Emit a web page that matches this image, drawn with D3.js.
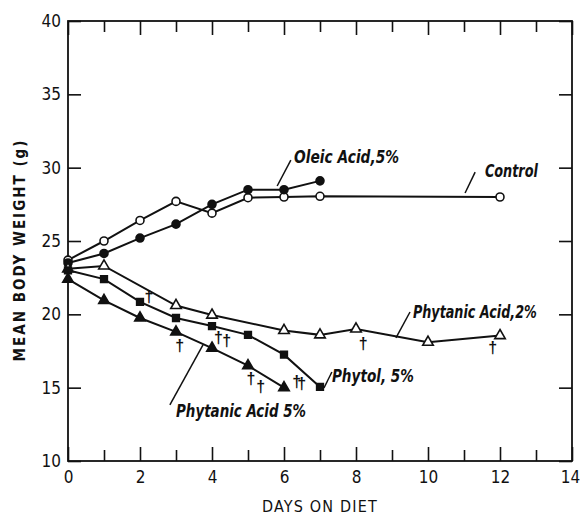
<!DOCTYPE html>
<html>
<head>
<meta charset="utf-8">
<script src="https://cdn.jsdelivr.net/npm/d3@7"></script>
<style>
  body { margin: 0; background: #fff; }
  svg { display: block; }
  .tick text { font-family: "Liberation Sans Narrow", "DejaVu Sans Condensed", "Liberation Sans", sans-serif; font-stretch: condensed; fill: #111; }
  .lbl { font-family: "Liberation Sans Narrow", "DejaVu Sans Condensed", "Liberation Sans", sans-serif; font-style: italic; font-weight: bold; fill: #111; }
</style>
</head>
<body>
<svg id="chart" width="580" height="517"></svg>
<script>
// days on diet and mean body weight (g) per group
var controlDays = [0, 1, 2, 3, 4, 5, 6, 7, 12];
var controlWeight = [23.7, 25.0, 26.4, 27.7, 26.9, 27.95, 28.0, 28.05, 28.0];

var oleicDays = [0, 1, 2, 3, 4, 5, 6, 7];
var oleicWeight = [23.5, 24.15, 25.2, 26.15, 27.5, 28.5, 28.5, 29.1];

var phyt2Days = [0, 1, 3, 4, 6, 7, 8, 10, 12];
var phyt2Weight = [23.1, 23.3, 20.6, 19.95, 18.9, 18.6, 19.0, 18.1, 18.55];

var phytolDays = [0, 1, 2, 3, 4, 5, 6, 7];
var phytolWeight = [23.0, 22.4, 20.85, 19.75, 19.2, 18.6, 17.25, 15.05];

var phyt5Days = [0, 1, 2, 3, 4, 5, 6];
var phyt5Weight = [22.4, 20.95, 19.75, 18.8, 17.7, 16.5, 15.0];

// deaths (†) marked on the chart: [day, weight]
var deaths = [[2.25, 21.2], [3.1, 17.85], [4.18, 18.45], [4.41, 18.25], [5.08, 15.6],
              [5.35, 15.05], [6.35, 15.4], [6.49, 15.3], [8.2, 18.0], [11.8, 17.75]];

var xMajor = [0, 2, 4, 6, 8, 10, 12, 14];
var xMinor = [1, 3, 5, 7, 9, 11, 13];
var yTicks = [10, 15, 20, 25, 30, 35, 40];

var series = [
  { name: "Control", days: controlDays, w: controlWeight, mark: "circle", fill: "#fff" },
  { name: "Oleic Acid,5%", days: oleicDays, w: oleicWeight, mark: "circle", fill: "#111" },
  { name: "Phytanic Acid,2%", days: phyt2Days, w: phyt2Weight, mark: "triangle", fill: "#fff" },
  { name: "Phytol, 5%", days: phytolDays, w: phytolWeight, mark: "square", fill: "#111" },
  { name: "Phytanic Acid 5%", days: phyt5Days, w: phyt5Weight, mark: "triangle", fill: "#111" }
];

// label placement in data units: text start, leader from -> to, text width
var labels = [
  { text: "Oleic Acid,5%", at: [6.28, 30.32], lead: [[5.81, 28.75], [6.19, 30.52]], len: 105 },
  { text: "Control", at: [11.58, 29.36], lead: [[11.03, 28.27], [11.31, 29.7]], len: 53 },
  { text: "Phytanic Acid,2%", at: [9.58, 19.78], lead: [[9.11, 18.39], [9.5, 20.16]], len: 124 },
  { text: "Phytol, 5%", at: [7.33, 15.39], lead: [[7.11, 14.98], [7.33, 16.07]], len: 82 },
  { text: "Phytanic Acid 5%", at: [3.0, 13.0], lead: [[2.83, 13.82], [3.75, 17.91]], len: 130 }
];

var svg = d3.select("#chart");
var x = d3.scaleLinear().domain([0, 14]).range([68, 572]);
var y = d3.scaleLinear().domain([10, 40]).range([461, 21]);

function styleAxis(g) {
  g.select(".domain").remove();
  g.selectAll(".tick line").attr("stroke", "#111").attr("stroke-width", 1.6);
}

// axes with inward ticks
svg.append("g").attr("transform", "translate(0,461)")
  .call(d3.axisBottom(x).tickValues(xMajor).tickSize(-14).tickPadding(10).tickFormat(d3.format("d")))
  .call(styleAxis)
  .selectAll("text").attr("font-size", 17)
  .attr("dx", function (d) { return d === 14 ? -2 : 0; });
svg.append("g").attr("transform", "translate(0,461)")
  .call(d3.axisBottom(x).tickValues(xMinor).tickSize(-11).tickFormat(""))
  .call(styleAxis);
svg.append("g").attr("transform", "translate(0,21)")
  .call(d3.axisTop(x).tickValues(xMajor).tickSize(-14).tickFormat(""))
  .call(styleAxis);
svg.append("g").attr("transform", "translate(0,21)")
  .call(d3.axisTop(x).tickValues(xMinor).tickSize(-11).tickFormat(""))
  .call(styleAxis);
svg.append("g").attr("transform", "translate(68,0)")
  .call(d3.axisLeft(y).tickValues(yTicks).tickSize(-13).tickPadding(7))
  .call(styleAxis)
  .selectAll("text").attr("font-size", 17);
svg.append("g").attr("transform", "translate(572,0)")
  .call(d3.axisRight(y).tickValues(yTicks).tickSize(-13).tickFormat(""))
  .call(styleAxis);

// frame
svg.append("rect")
  .attr("x", x(0)).attr("y", y(40))
  .attr("width", x(14) - x(0)).attr("height", y(10) - y(40))
  .attr("fill", "none").attr("stroke", "#111").attr("stroke-width", 1.8);

// axis titles
svg.append("text")
  .attr("x", (x(0) + x(14)) / 2).attr("y", 512)
  .attr("text-anchor", "middle")
  .style("font-family", "'Liberation Sans Narrow', 'DejaVu Sans Condensed', sans-serif")
  .attr("font-size", 16).attr("letter-spacing", 1.2).attr("fill", "#111")
  .text("DAYS ON DIET");
svg.append("text")
  .attr("transform", "translate(25,250) rotate(-90)")
  .attr("text-anchor", "middle")
  .style("font-family", "'Liberation Sans Narrow', 'DejaVu Sans Condensed', sans-serif")
  .style("font-weight", "bold")
  .attr("font-size", 15).attr("letter-spacing", 2).attr("fill", "#111")
  .text("MEAN BODY WEIGHT (g)");

// lines
var line = d3.line()
  .x(function (d) { return x(d[0]); })
  .y(function (d) { return y(d[1]); });

series.forEach(function (s) {
  s.pts = s.days.map(function (d, i) { return [d, s.w[i]]; });
  svg.append("path")
    .datum(s.pts)
    .attr("d", line)
    .attr("fill", "none")
    .attr("stroke", "#111")
    .attr("stroke-width", 2);
});

// markers
var symbols = { circle: d3.symbolCircle, triangle: d3.symbolTriangle, square: d3.symbolSquare };
var sizes = { circle: 50, triangle: 48, square: 45 };
series.forEach(function (s) {
  svg.append("g").selectAll("path")
    .data(s.pts)
    .join("path")
    .attr("transform", function (d) { return "translate(" + x(d[0]) + "," + y(d[1]) + ")"; })
    .attr("d", d3.symbol().type(symbols[s.mark]).size(sizes[s.mark]))
    .attr("fill", s.fill)
    .attr("stroke", "#111")
    .attr("stroke-width", 1.6);
});

// deaths
svg.append("g").selectAll("text")
  .data(deaths)
  .join("text")
  .attr("x", function (d) { return x(d[0]); })
  .attr("y", function (d) { return y(d[1]); })
  .attr("text-anchor", "middle")
  .attr("dominant-baseline", "central")
  .attr("font-family", "'Liberation Sans', sans-serif")
  .attr("font-weight", "bold")
  .attr("font-size", 16)
  .attr("fill", "#111")
  .text("†");

// series labels with leader lines
labels.forEach(function (l) {
  svg.append("line")
    .attr("x1", x(l.lead[0][0])).attr("y1", y(l.lead[0][1]))
    .attr("x2", x(l.lead[1][0])).attr("y2", y(l.lead[1][1]))
    .attr("stroke", "#111").attr("stroke-width", 1.5);
  svg.append("text")
    .attr("class", "lbl")
    .attr("x", x(l.at[0])).attr("y", y(l.at[1]))
    .attr("font-size", 17)
    .attr("textLength", l.len)
    .attr("lengthAdjust", "spacingAndGlyphs")
    .text(l.text);
});
</script>
</body>
</html>
